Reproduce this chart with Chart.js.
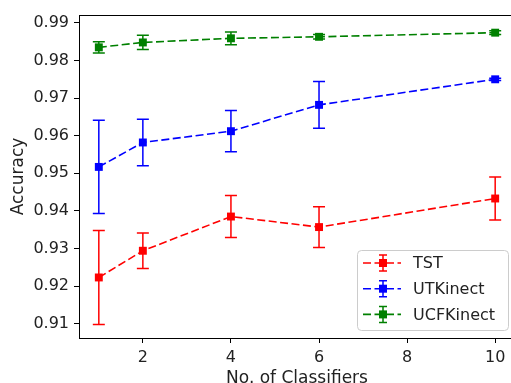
<!DOCTYPE html>
<html>
<head>
<meta charset="utf-8">
<script src="https://cdn.jsdelivr.net/npm/chart.js@4.4.0/dist/chart.umd.min.js"></script>
<style>
    html, body { margin: 0; padding: 0; background: #fff; overflow: hidden; }
    #contenedor { width: 511px; height: 383px; overflow: hidden; }
    #grafico { display: block; }
</style>
</head>
<body>
<div id="contenedor"><canvas id="grafico" width="516" height="383"></canvas></div>
<script>
// datos
const clasificadores = [1, 2, 4, 6, 10];

const tst = [0.9223, 0.9294, 0.9385, 0.9357, 0.9433];
const tstErr = [0.0125, 0.0047, 0.0056, 0.0054, 0.0057];

const utk = [0.9517, 0.9582, 0.9612, 0.9682, 0.9750];
const utkErr = [0.0124, 0.0062, 0.0055, 0.0062, 0.0003];

const ucf = [0.9835, 0.9848, 0.9859, 0.9863, 0.9874];
const ucfErr = [0.0015, 0.0019, 0.0017, 0.0006, 0.0005];

const ticksX = [2, 4, 6, 8, 10];
const ticksY = [0.91, 0.92, 0.93, 0.94, 0.95, 0.96, 0.97, 0.98, 0.99];

const fuente = '"DejaVu Sans", sans-serif';

const crearSerie = (label, valores, errores, color) => ({
    label,
    data: clasificadores.map((c, i) => ({ x: c, y: valores[i] })),
    errores,
    borderColor: color,
    backgroundColor: color,
    borderWidth: 1.6,
    borderDash: [8, 3.5],
    fill: false,
    tension: 0,
    pointStyle: 'rect',
    pointRadius: 5.6,
    pointBorderWidth: 0,
    pointBackgroundColor: color
});

const barrasError = {
    id: 'barrasError',
    beforeDatasetsDraw(chart) {
        const { ctx, scales: { x, y } } = chart;
        chart.data.datasets.forEach((ds) => {
            ctx.save();
            ctx.strokeStyle = ds.borderColor;
            ctx.lineWidth = 1.5;
            ds.data.forEach((p, i) => {
                const px = x.getPixelForValue(p.x);
                const arriba = y.getPixelForValue(p.y + ds.errores[i]);
                const abajo = y.getPixelForValue(p.y - ds.errores[i]);
                ctx.beginPath();
                ctx.moveTo(px, arriba); ctx.lineTo(px, abajo);
                ctx.moveTo(px - 6, arriba); ctx.lineTo(px + 6, arriba);
                ctx.moveTo(px - 6, abajo); ctx.lineTo(px + 6, abajo);
                ctx.stroke();
            });
            ctx.restore();
        });
    }
};

const marco = {
    id: 'marco',
    afterDatasetsDraw(chart) {
        const { ctx, chartArea: a } = chart;
        ctx.save();
        ctx.strokeStyle = '#000';
        ctx.lineWidth = 1;
        ctx.strokeRect(a.left + 0.5, a.top + 0.5, a.right - a.left, a.bottom - a.top);
        ctx.restore();
    }
};

const leyenda = {
    id: 'leyenda',
    afterDraw(chart) {
        const { ctx } = chart;
        const w = 151, h = 80;
        const x0 = 357;
        const y0 = chart.chartArea.bottom - 8 - h;
        ctx.save();
        ctx.beginPath();
        ctx.roundRect(x0 + 0.5, y0 + 0.5, w, h, 4);
        ctx.fillStyle = 'rgba(255,255,255,0.8)';
        ctx.fill();
        ctx.strokeStyle = '#cccccc';
        ctx.lineWidth = 1;
        ctx.stroke();

        chart.data.datasets.forEach((ds, i) => {
            const cy = y0 + 13 + i * 25.7;
            const cx = x0 + 26;
            ctx.strokeStyle = ds.borderColor;
            ctx.lineWidth = 1.6;
            ctx.setLineDash([8, 3.5]);
            ctx.beginPath();
            ctx.moveTo(x0 + 6, cy); ctx.lineTo(x0 + 44, cy);
            ctx.stroke();
            ctx.setLineDash([]);
            ctx.lineWidth = 1.5;
            ctx.beginPath();
            ctx.moveTo(cx, cy - 8); ctx.lineTo(cx, cy + 8);
            ctx.moveTo(cx - 4, cy - 8); ctx.lineTo(cx + 4, cy - 8);
            ctx.moveTo(cx - 4, cy + 8); ctx.lineTo(cx + 4, cy + 8);
            ctx.stroke();
            ctx.fillStyle = ds.borderColor;
            ctx.fillRect(cx - 4, cy - 4, 8, 8);

            ctx.fillStyle = '#222';
            ctx.font = '16px ' + fuente;
            ctx.textBaseline = 'middle';
            ctx.fillText(ds.label, x0 + 56, cy + 1);
        });
        ctx.restore();
    }
};

const ctx = document.getElementById('grafico').getContext('2d');

new Chart(ctx, {
    type: 'line',
    data: {
        datasets: [
            crearSerie('TST', tst, tstErr, '#ff0000'),
            crearSerie('UTKinect', utk, utkErr, '#0000ff'),
            crearSerie('UCFKinect', ucf, ucfErr, '#008000')
        ]
    },
    options: {
        responsive: false,
        animation: false,
        layout: { autoPadding: false, padding: { top: 15, right: 1, left: 0, bottom: 0 } },
        plugins: {
            legend: { display: false },
            tooltip: { enabled: false }
        },
        scales: {
            x: {
                type: 'linear',
                min: 0.55,
                max: 10.45,
                afterBuildTicks: (s) => { s.ticks = ticksX.map((v) => ({ value: v })); },
                afterFit: (s) => { s.height = 45; s.paddingLeft = 0; s.paddingRight = 0; },
                grid: { drawOnChartArea: false, tickLength: 5, color: '#000' },
                border: { display: false },
                ticks: { padding: 5, color: '#222', font: { family: fuente, size: 16 } },
                title: {
                    display: true,
                    text: 'No. of Classifiers',
                    color: '#222',
                    font: { family: fuente, size: 17 },
                    padding: { top: 0, bottom: -6 }
                }
            },
            y: {
                min: 0.9062,
                max: 0.9921,
                afterBuildTicks: (s) => { s.ticks = ticksY.map((v) => ({ value: v })); },
                afterFit: (s) => { s.width = 79; s.paddingTop = 0; s.paddingBottom = 0; },
                grid: { drawOnChartArea: false, tickLength: 5, color: '#000' },
                border: { display: false },
                ticks: {
                    padding: 5,
                    color: '#222',
                    font: { family: fuente, size: 16 },
                    callback: (v) => v.toFixed(2)
                },
                title: {
                    display: true,
                    text: 'Accuracy',
                    color: '#222',
                    font: { family: fuente, size: 17 },
                    padding: { top: 8, bottom: 0 }
                }
            }
        }
    },
    plugins: [barrasError, marco, leyenda]
});
</script>
</body>
</html>
